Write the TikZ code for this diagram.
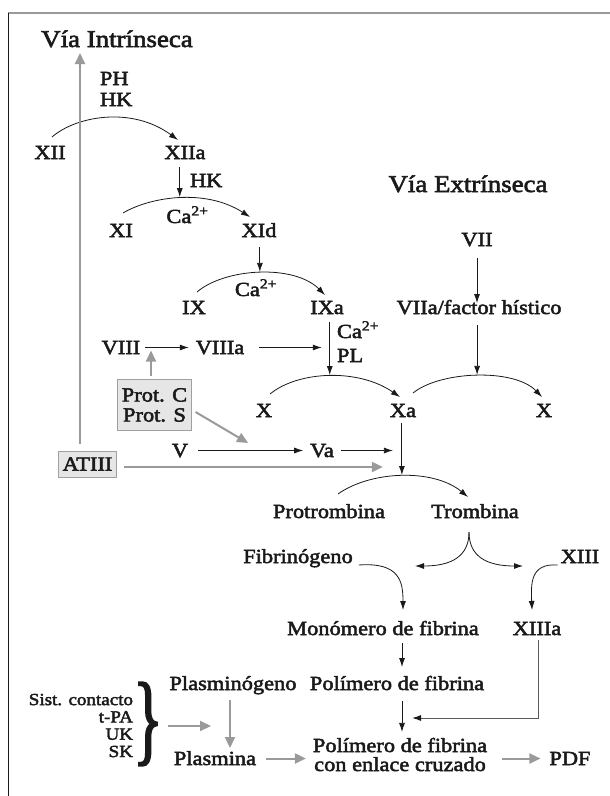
\documentclass[tikz,border=0pt]{standalone}
\usepackage{fontspec}
\setmainfont{Liberation Serif}[FakeStretch=1.12,FakeBold=2.5]
\usepackage{graphicx}
\usetikzlibrary{arrows.meta,calc}
\definecolor{gr}{HTML}{9A9A9A}
\definecolor{bx}{HTML}{E6E6E6}
\definecolor{bxd}{HTML}{A0A0A0}
\definecolor{dk}{HTML}{5A5A5A}
\definecolor{ink}{HTML}{1A1A1A}
\begin{document}
\begin{tikzpicture}[x=1pt,y=-1pt,
  lab/.style={inner sep=0pt,outer sep=0pt,text height=13pt,text depth=0pt,anchor=base,text=ink,font=\fontsize{20}{20}\selectfont},
  lab2/.style={inner sep=0pt,outer sep=0pt,anchor=base,align=center,text=ink,font=\fontsize{20}{19}\selectfont},
  ttl/.style={inner sep=0pt,outer sep=0pt,text depth=0pt,anchor=base,text=ink,font=\fontsize{24}{24}\selectfont},
  smlab/.style={inner sep=0pt,outer sep=0pt,anchor=base east,align=right,text=ink,font=\fontsize{17}{17.3}\selectfont},
  gbox/.style={draw=bxd,fill=bx,line width=0.8pt,inner xsep=4pt,inner ysep=6.4pt,align=center,text=ink,font=\fontsize{20}{20}\selectfont},
  arr/.style={draw=ink,line width=0.8pt,-{Latex[length=9pt,width=6pt]}},
  darr/.style={draw=dk,line width=1pt,-{Latex[length=9pt,width=6pt,color=ink]}},
  garr/.style={draw=gr,line width=2pt,-{Triangle[length=11pt,width=10pt]}}
]
\useasboundingbox (0,0) rectangle (610,796);
% frame
\draw[gr,line width=2pt] (8,13) -- (610,13);
\draw[ink,line width=0.8pt] (8,13) -- (8,796);

% titles
\node[ttl] (T1) at (117,47) {Vía Intrínseca};
\node[ttl] (T2) at (468,192) {Vía Extrínseca};

% labels
\node[lab,anchor=base west] (PH) at (100,85) {PH};
\node[lab,anchor=base west] (HKa) at (100,106) {HK};
\node[lab] (XII) at (50,159) {XII};
\node[lab] (XIIa) at (185,159) {XIIa};
\node[lab,anchor=base west] (HKb) at (190,187) {HK};
\node[lab] (XI) at (121,237) {XI};
\node[lab] (XId) at (259,237) {XId};
\node[lab] (Ca1) at (187.5,223) {Ca\textsuperscript{2+}};
\node[lab] (IX) at (194,314) {IX};
\node[lab] (IXa) at (327,314) {IXa};
\node[lab] (Ca2) at (256,296) {Ca\textsuperscript{2+}};
\node[lab] (VIII) at (121,354) {VIII};
\node[lab] (VIIIa) at (220,354) {VIIIa};
\node[lab,anchor=base west] (Ca3) at (337,338) {Ca\textsuperscript{2+}};
\node[lab,anchor=base west] (PL) at (337,362) {PL};
\node[lab] (X1) at (264,417) {X};
\node[lab] (Xa) at (403,417) {Xa};
\node[lab] (X2) at (544,417) {X};
\node[lab] (VII) at (477,246) {VII};
\node[lab] (VIIa) at (479,314) {VIIa/factor hístico};
\node[lab] (V) at (180,457) {V};
\node[lab] (Va) at (322,457) {Va};
\node[lab] (Pro) at (329,518) {Protrombina};
\node[lab] (Tro) at (475,518) {Trombina};
\node[lab] (Fib) at (298,563) {Fibrinógeno};
\node[lab] (XIII) at (580,563) {XIII};
\node[lab] (Mon) at (383,635) {Monómero de fibrina};
\node[lab] (XIIIa) at (537,635) {XIIIa};
\node[lab] (Pg) at (233,690) {Plasminógeno};
\node[lab] (Pol) at (397,690) {Polímero de fibrina};
\node[lab] (Pm) at (215,765) {Plasmina};
\node[lab2] (comp) at (400,771) {Polímero de fibrina\\con enlace cruzado};
\node[lab] (PDF) at (570,765) {PDF};
\node[smlab] (sist) at (133,757) {Sist. contacto\\t-PA\\UK\\SK};
\node[inner sep=0pt,text=ink] (br) at (148,724) {\scalebox{0.55}[1.0]{\fontsize{100}{100}\selectfont\}}};

% boxes
\node[gbox,inner ysep=9pt] (Prot) at (154.5,405) {Prot. C\\Prot. S};
\node[gbox] (AT) at (87.5,464) {ATIII};

% helper coordinates
\coordinate (gx) at (80,0);
\coordinate (px) at (151,0);
\coordinate (px2) at (230,0);
\coordinate (colx) at (402,0);
\coordinate (xl) at (538,0);
\coordinate (j1) at (402,718);
\coordinate (pt1) at (248,443);
\coordinate (fL) at (415,566);
\coordinate (fR) at (523,566);
\coordinate (bS) at (168,726);
\coordinate (bE) at (211,726);

% reaction arcs
\draw[arr] ($(XII.north)+(2,-9)$) .. controls (76,116) and (132,106) .. ($(XIIa.north)+(-7,-6)$);
\draw[arr] ($(XI.north)+(2,-11)$) .. controls (150,197) and (205,188) .. ($(XId.north)+(-9,-7)$) coordinate[pos=0.5] (pk2);
\draw[arr] ($(IX.north)+(3,-9)$) .. controls (225,268) and (294,264) .. ($(IXa.north)+(-2,-6)$) coordinate[pos=0.5] (pk3);
\draw[arr] ($(X1.north)+(6,-10)$) .. controls (298,371) and (358,368) .. ($(Xa.north)+(-3,-7)$) coordinate[pos=0.5] (pk4);
\draw[arr] ($(Xa.north)+(10,-11)$) .. controls (440,371) and (514,368) .. ($(X2.north)+(-2,-7)$) coordinate[pos=0.5] (pk5);
\draw[arr] ($(Pro.north)+(9,-11)$) .. controls (370,471) and (433,468) .. ($(Tro.north)+(-7,-8)$) coordinate[pos=0.5] (pk6);

% vertical arrows into arcs
\draw[arr,shorten <=8pt,shorten >=1pt] (XIIa.south -| pk2) -- (pk2);
\draw[arr,shorten <=10pt,shorten >=1pt] (XId.south -| pk3) -- (pk3);
\draw[arr,shorten <=8pt,shorten >=1pt] (IXa.south -| pk4) -- (pk4);
\draw[arr,shorten <=11pt,shorten >=1pt] (VIIa.south -| pk5) -- (pk5);
\draw[arr,shorten <=6pt,shorten >=1pt] (Xa.south -| pk6) -- (pk6);
\draw[arr,shorten <=12pt,shorten >=-2pt] (VII.south) -- (VII.south |- VIIa.north);

% horizontal arrows
\draw[arr,shorten <=5pt,shorten >=7pt] (VIII.east) -- (VIIIa.west);
\draw[arr,shorten <=15pt,shorten >=8pt] (VIIIa.east) -- (VIIIa.east -| pk4);
\draw[arr,shorten <=10pt,shorten >=7pt] (V.east) -- (Va.west);
\draw[arr,shorten <=7pt,shorten >=9pt] (Va.east) -- (Va.east -| pk6);

% gray inhibitor arrows
\draw[garr,shorten <=7pt,shorten >=6pt] (AT.north -| gx) -- (T1.south -| gx);
\draw[garr,shorten <=3pt,shorten >=3pt] (Prot.north -| px) -- (VIII.east -| px);
\draw[garr] ($(Prot.east)+(4,7)$) -- (pt1);
\draw[garr] ($(AT.east)+(7,3)$) -- ($(AT.east -| pk6)+(-19,3)$);

% thrombin fork
\coordinate (fk) at ($(Tro.south)+(-6,14)$);
\draw[arr] (fk) .. controls (469,556) and (452,566) .. (fL);
\draw[arr] (fk) .. controls (469,556) and (486,566) .. (fR);

% fibrinogen / XIII
\draw[arr] ($(Fib.base east)+(6,2)$) .. controls (400,562) and (403,582) .. ($(Mon.north)+(20,-12)$);
\draw[arr] ($(XIII.base west)+(-3,2)$) .. controls (530,563) and (531,584) .. ($(XIIIa.north)+(-5,-12)$);

% fibrin polymer chain
\draw[arr,shorten <=8pt,shorten >=10pt] (Mon.south -| colx) -- (Pol.north -| colx);
\draw[arr,shorten <=11pt,shorten >=5pt] (Pol.south -| colx) -- ($(comp.north -| colx)+(0,-1)$);
\draw[darr,shorten <=5pt,shorten >=10pt] (XIIIa.south -| xl) |- (j1);

% fibrinolysis
\draw[garr] (bS) -- (bE);
\draw[garr,shorten <=10pt,shorten >=4pt] (Pg.south -| px2) -- (Pm.north -| px2);
\draw[garr,shorten <=10pt,shorten >=7pt] (Pm.east) -- (Pm.east -| comp.west);
\draw[garr,shorten <=15pt,shorten >=9pt] (PDF.west -| comp.east) -- (PDF.west);
\end{tikzpicture}
\end{document}
